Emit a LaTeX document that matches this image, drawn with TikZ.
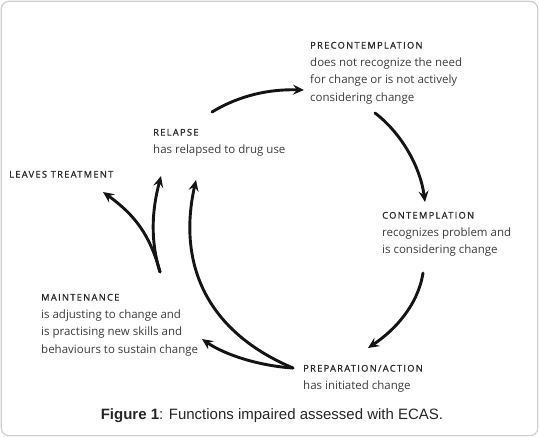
\documentclass[tikz,border=0pt]{standalone}
\usepackage{fontspec}
\usetikzlibrary{arrows.meta}
\newfontfamily\stagefont{Open Sans}
\newfontfamily\capsfont[LetterSpace=14,FakeBold=1.2]{Open Sans}
\newfontfamily\captionfont{Liberation Sans}
\definecolor{stagetext}{HTML}{3C3C3C}
\definecolor{capstext}{HTML}{2A2A2A}
\definecolor{framegray}{HTML}{CFCFCF}
\newcommand{\stagehead}[1]{{\capsfont\fontsize{9.3}{17.5}\selectfont\color{capstext}#1}}
\begin{document}
\begin{tikzpicture}[x=1pt,y=-1pt,
  stagebox/.style={align=left, inner sep=0pt, anchor=north west,
    font=\stagefont\fontsize{11.5}{17.5}\selectfont, text=stagetext},
  flow/.style={line width=2.9pt, draw=black!92, line cap=round,
    -{Stealth[length=11pt,width=10pt,inset=4pt]}}]
\useasboundingbox (0,0) rectangle (539,437);
\draw[framegray, line width=1.2pt, rounded corners=8pt] (1.2,1.2) rectangle (537.8,435.8);

\node[stagebox] (pre) at (310,41.7) {\stagehead{PRECONTEMPLATION}\\does not recognize the need\\for change or is not actively\\considering change};
\node[stagebox] (con) at (382,211.7) {\stagehead{CONTEMPLATION}\\recognizes problem and\\is considering change};
\node[stagebox] (prep) at (303,364.7) {\stagehead{PREPARATION/ACTION}\\has initiated change};
\node[stagebox] (main) at (41,293.7) {\stagehead{MAINTENANCE}\\is adjusting to change and\\is practising new skills and\\behaviours to sustain change};
\node[stagebox] (rel) at (153,128.7) {\stagehead{RELAPSE}\\has relapsed to drug use};
\node[stagebox] (leave) at (9,170.7) {\stagehead{LEAVES TREATMENT}};

\node[font=\captionfont\fontsize{15}{17}\selectfont, text=black!85] (cap) at (272,416)
  {{\bfseries Figure 1}: Functions impaired assessed with ECAS.};

\coordinate (relout) at (212,112);
\coordinate (prein) at (304,90);
\coordinate (preout) at (375,113);
\coordinate (conin) at (425,202);
\coordinate (conout) at (423,273);
\coordinate (prepin) at (368,348);
\coordinate (prepout) at (293,368);
\coordinate (mainin) at (202,339);
\coordinate (relin) at (196,180);
\coordinate (mainout) at (160,272);
\coordinate (relin2) at (161,176);
\coordinate (leavein) at (103,192);

\draw[flow] (relout) .. controls (240,95) and (270,89) .. (prein);
\draw[flow] (preout) .. controls (400,132) and (420,165) .. (conin);
\draw[flow] (conout) .. controls (418,305) and (395,330) .. (prepin);
\draw[flow] (prepout) .. controls (260,366) and (225,355) .. (mainin);
\draw[flow] (prepout) .. controls (203,330) and (178,260) .. (relin);
\draw[flow] (mainout) .. controls (150,240) and (152,210) .. (relin2);
\draw[flow] (mainout) .. controls (150,235) and (135,215) .. (leavein);
\end{tikzpicture}
\end{document}
